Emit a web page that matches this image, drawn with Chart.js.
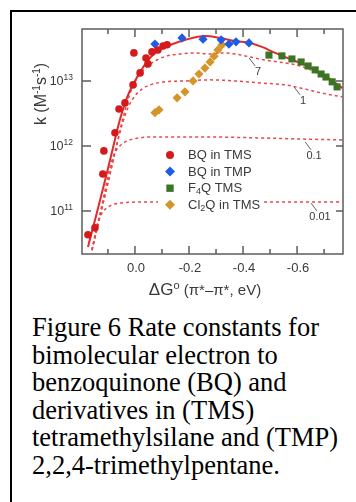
<!DOCTYPE html>
<html>
<head>
<meta charset="utf-8">
<script src="https://cdn.jsdelivr.net/npm/chart.js@4/dist/chart.umd.min.js"></script>
<style>
  html, body { margin: 0; padding: 0; background: #fff; }
  body { width: 356px; height: 502px; overflow: hidden; position: relative; }
  #frame { position: absolute; left: 10px; top: 10px; width: 420px; height: 600px;
           border-left: 2px solid #000; border-top: 2px solid #000; }
  #chart { position: absolute; left: 0; top: 0; }
  #caption { position: absolute; left: 32px; top: 314px; color: #000;
             font-family: "Liberation Serif", "Times New Roman", serif;
             font-size: 26.5px; line-height: 27.6px; white-space: nowrap; }
</style>
</head>
<body>
<div id="frame"></div>
<canvas id="chart" width="356" height="300"></canvas>
<div id="caption">Figure 6 Rate constants for<br>bimolecular electron to<br>benzoquinone (BQ) and<br>derivatives in (TMS)<br>tetramethylsilane and (TMP)<br>2,2,4-trimethylpentane.</div>
<script>
// ΔG° (eV) and k (M-1 s-1)

// BQ in TMS (red circles)
var bqTmsDG = [0.174, 0.148, 0.119, 0.115, 0.074, 0.059, 0.037, 0.007, 0.004, -0.019, -0.041, -0.048, -0.063, -0.085, -0.104, -0.119];
var bqTmsK  = [4.3e10, 5.5e10, 3.7e11, 8.4e11, 1.6e12, 3.7e12, 4.6e12, 8.7e12, 2.7e13, 1.33e13, 2.26e13, 1.83e13, 2.8e13, 3.0e13, 3.45e13, 3.6e13];

// BQ in TMP (blue diamonds)
var bqTmpDG = [-0.074, -0.174, -0.252, -0.319, -0.348, -0.374, -0.422];
var bqTmpK  = [3.7e13, 4.6e13, 4.4e13, 4.3e13, 3.7e13, 4.0e13, 3.85e13];

// F4Q TMS (green squares)
var f4qDG = [-0.496, -0.544, -0.581, -0.615, -0.641, -0.667, -0.689, -0.707, -0.730, -0.748];
var f4qK  = [2.5e13, 2.43e13, 2.18e13, 1.96e13, 1.7e13, 1.48e13, 1.28e13, 1.15e13, 9.7e12, 8.1e12];

// Cl2Q in TMS (orange diamonds)
var cl2qDG = [-0.074, -0.089, -0.156, -0.185, -0.215, -0.237, -0.259, -0.278, -0.293, -0.307, -0.322];
var cl2qK  = [3.25e12, 3.6e12, 5.5e12, 6.8e12, 1.0e13, 1.28e13, 1.58e13, 1.96e13, 2.4e13, 3.0e13, 3.6e13];

// fitted curve (solid)
var fitDG = [0.174, 0.144, 0.115, 0.085, 0.056, 0.030, 0.004, -0.022, -0.052, -0.085, -0.130, -0.185, -0.259, -0.315, -0.370, -0.426, -0.470, -0.519, -0.574, -0.630, -0.685, -0.733, -0.767];
var fitK  = [2.8e10, 8.4e10, 2.5e11, 8.1e11, 2.5e12, 5.5e12, 9.3e12, 1.43e13, 2.18e13, 2.9e13, 3.58e13, 4.28e13, 4.92e13, 4.59e13, 4.12e13, 3.85e13, 3.34e13, 2.7e13, 2.18e13, 1.76e13, 1.33e13, 1.0e13, 7.8e12];

// model curves (dotted), labelled 7, 1, 0.1, 0.01
var c7DG = [0.159, 0.137, 0.115, 0.093, 0.070, 0.048, 0.026, 0.004, -0.019, -0.048, -0.081, -0.119, -0.167, -0.222, -0.278, -0.322, -0.370, -0.426, -0.481, -0.556, -0.611, -0.667, -0.722, -0.767];
var c7K  = [2.5e10, 6.1e10, 1.48e11, 3.6e11, 9.3e11, 2.34e12, 5.1e12, 9.0e12, 1.28e13, 1.7e13, 2.1e13, 2.43e13, 2.6e13, 2.7e13, 2.6e13, 2.7e13, 2.6e13, 2.34e13, 2.1e13, 1.89e13, 1.7e13, 1.37e13, 1.0e13, 7.8e12];

var c1DG = [0.159, 0.137, 0.115, 0.093, 0.070, 0.048, 0.026, 0.0, -0.026, -0.056, -0.111, -0.185, -0.278, -0.370, -0.463, -0.556, -0.630, -0.693, -0.767];
var c1K  = [2.5e10, 6.1e10, 1.48e11, 3.6e11, 9.3e11, 2.1e12, 3.85e12, 5.9e12, 7.5e12, 8.7e12, 9.7e12, 1.0e13, 1.04e13, 1.0e13, 9.3e12, 8.7e12, 7.5e12, 6.5e12, 5.7e12];

var c01DG = [0.159, 0.141, 0.122, 0.107, 0.093, 0.078, 0.056, 0.030, 0.0, -0.056, -0.241, -0.463, -0.611, -0.767];
var c01K  = [2.5e10, 5.5e10, 1.24e11, 2.5e11, 4.6e11, 7.3e11, 1.0e12, 1.19e12, 1.3e12, 1.38e12, 1.38e12, 1.33e12, 1.28e12, 1.24e12];

var c001DG = [0.159, 0.148, 0.137, 0.122, 0.100, 0.074, 0.037, -0.019, -0.241, -0.463, -0.767];
var c001K  = [2.5e10, 4.3e10, 6.8e10, 9.3e10, 1.15e11, 1.28e11, 1.35e11, 1.37e11, 1.37e11, 1.37e11, 1.37e11];

// curve labels: text, anchor on the curve (ΔG, k)
var curveLabels = ['7', '1', '0.1', '0.01'];
var curveLabelDG = [-0.419, -0.585, -0.626, -0.648];
var curveLabelK  = [2.34e13, 8.4e12, 1.2e12, 1.37e11];

// axis ticks
var xTickVals = [0.1, 0.0, -0.1, -0.2, -0.3, -0.4, -0.5, -0.6, -0.7];
var xTickLabels = ['', '0.0', '', '-0.2', '', '-0.4', '', '-0.6', ''];
var yTickVals = [1e11, 1e12, 1e13];
var yTickExps = ['11', '12', '13'];

var RED = '#d41a1a', BLUE = '#1f5ce6', GREEN = '#3b7424', ORANGE = '#d4952a';
var LINE_RED = '#e22a2a', DOT_RED = '#e8474a', INK = '#3a3a3a', AXIS = '#5c5c5c';

function pts(xs, ys) {
  return xs.map(function(x, i) { return { x: x, y: ys[i] }; });
}

function marker(ctx, style, x, y, r, color) {
  ctx.fillStyle = color;
  ctx.beginPath();
  if (style === 'circle') {
    ctx.arc(x, y, r, 0, Math.PI * 2);
  } else if (style === 'rect') {
    var s = r * Math.SQRT1_2;
    ctx.rect(x - s, y - s, 2 * s, 2 * s);
  } else {
    ctx.moveTo(x, y - r); ctx.lineTo(x + r, y); ctx.lineTo(x, y + r); ctx.lineTo(x - r, y);
    ctx.closePath();
  }
  ctx.fill();
}

// draw text pieces with sub/superscripts: [text, size, dy]
function rich(ctx, parts, x, y) {
  parts.forEach(function(p) {
    ctx.font = p[1] + 'px "Liberation Sans", Arial, sans-serif';
    ctx.fillText(p[0], x, y + (p[2] || 0));
    x += ctx.measureText(p[0]).width;
  });
  return x;
}
function richWidth(ctx, parts) {
  var w = 0;
  parts.forEach(function(p) {
    ctx.font = p[1] + 'px "Liberation Sans", Arial, sans-serif';
    w += ctx.measureText(p[0]).width;
  });
  return w;
}

var legendItems = [
  { style: 'circle', r: 4, color: RED, parts: [['BQ in TMS', 13]] },
  { style: 'diamond', r: 5, color: BLUE, parts: [['BQ in TMP', 13]] },
  { style: 'rect', r: 5.2, color: GREEN, parts: [['F', 13], ['4', 9, 3], ['Q TMS', 13]] },
  { style: 'diamond', r: 5, color: ORANGE, parts: [['Cl', 13], ['2', 9, 3], ['Q in TMS', 13]] }
];

var decor = {
  id: 'decor',
  afterDatasetsDraw: function(chart) {
    var ctx = chart.ctx, a = chart.chartArea, xs = chart.scales.x, ys = chart.scales.y;
    ctx.save();

    // legend box (covers the 0.01 curve)
    ctx.fillStyle = '#fff';
    ctx.fillRect(158, 146, 106, 67);
    ctx.textBaseline = 'middle';
    legendItems.forEach(function(it, i) {
      var y = 155 + i * 16.6;
      marker(ctx, it.style, 170, y, it.r, it.color);
      ctx.fillStyle = INK;
      rich(ctx, it.parts, 188, y + 0.5);
    });

    // curve labels with leader lines
    ctx.strokeStyle = '#666';
    ctx.lineWidth = 1;
    ctx.fillStyle = INK;
    ctx.font = '11px "Liberation Sans", Arial, sans-serif';
    ctx.textAlign = 'center';
    curveLabels.forEach(function(t, i) {
      var px = xs.getPixelForValue(curveLabelDG[i]);
      var py = ys.getPixelForValue(curveLabelK[i]);
      ctx.beginPath();
      ctx.moveTo(px + 1, py + 1);
      ctx.lineTo(px + 7, py + 9);
      ctx.stroke();
      ctx.fillText(t, px + 10, py + 15);
    });

    // frame
    ctx.strokeStyle = AXIS;
    ctx.lineWidth = 1.5;
    ctx.strokeRect(a.left, a.top, a.right - a.left, a.bottom - a.top);

    // x ticks (inward, top and bottom) and labels
    ctx.textAlign = 'center';
    ctx.textBaseline = 'alphabetic';
    xTickVals.forEach(function(v, i) {
      var px = xs.getPixelForValue(v);
      var len = xTickLabels[i] ? 8 : 5;
      ctx.beginPath();
      ctx.moveTo(px, a.bottom); ctx.lineTo(px, a.bottom - len);
      ctx.moveTo(px, a.top); ctx.lineTo(px, a.top + len);
      ctx.stroke();
      if (xTickLabels[i]) {
        ctx.fillStyle = INK;
        ctx.font = '13px "Liberation Sans", Arial, sans-serif';
        ctx.fillText(xTickLabels[i], px + 1, a.bottom + 18);
      }
    });

    // y ticks and labels 10^n
    ctx.textAlign = 'left';
    yTickVals.forEach(function(v, i) {
      var py = ys.getPixelForValue(v);
      ctx.beginPath();
      ctx.moveTo(a.left, py); ctx.lineTo(a.left + 9, py);
      ctx.moveTo(a.right, py); ctx.lineTo(a.right - 7, py);
      ctx.stroke();
      var parts = [['10', 12.5], [yTickExps[i], 8.5, -5]];
      ctx.fillStyle = INK;
      rich(ctx, parts, a.left - 9 - richWidth(ctx, parts), py + 4.5);
    });

    // x title
    var xt = [['\u0394G', 17], ['o', 11, -6], [' (\u03c0*\u2013\u03c0*, eV)', 15]];
    rich(ctx, xt, 205 - richWidth(ctx, xt) / 2, 295);

    // y title
    ctx.translate(46, 94);
    ctx.rotate(-Math.PI / 2);
    var yt = [['k (M', 16], ['-1', 10, -6], ['s', 16], ['-1', 10, -6], [')', 16]];
    rich(ctx, yt, -richWidth(ctx, yt) / 2, 0);

    ctx.restore();
  }
};

function dotted(data) {
  return { data: data, showLine: true, pointRadius: 0, borderColor: DOT_RED, borderWidth: 1.5,
           borderDash: [3, 3], cubicInterpolationMode: 'monotone', fill: false };
}

new Chart(document.getElementById('chart'), {
  type: 'scatter',
  data: {
    datasets: [
      { data: pts(bqTmsDG, bqTmsK), pointStyle: 'circle', pointRadius: 3.8, backgroundColor: RED, borderColor: RED, borderWidth: 0 },
      { data: pts(bqTmpDG, bqTmpK), pointStyle: 'rectRot', pointRadius: 4.6, backgroundColor: BLUE, borderColor: BLUE, borderWidth: 0 },
      { data: pts(f4qDG, f4qK), pointStyle: 'rect', pointRadius: 5, backgroundColor: GREEN, borderColor: GREEN, borderWidth: 0 },
      { data: pts(cl2qDG, cl2qK), pointStyle: 'rectRot', pointRadius: 4.6, backgroundColor: ORANGE, borderColor: ORANGE, borderWidth: 0 },
      { data: pts(fitDG, fitK), showLine: true, pointRadius: 0, borderColor: LINE_RED, borderWidth: 2,
        cubicInterpolationMode: 'monotone', fill: false },
      dotted(pts(c7DG, c7K)),
      dotted(pts(c1DG, c1K)),
      dotted(pts(c01DG, c01K)),
      dotted(pts(c001DG, c001K))
    ]
  },
  options: {
    responsive: false,
    animation: false,
    devicePixelRatio: 1,
    layout: { padding: { left: 82, right: 13, top: 29, bottom: 46 } },
    plugins: { legend: { display: false }, tooltip: { enabled: false } },
    scales: {
      x: { type: 'linear', reverse: true, min: -0.77, max: 0.196, display: false },
      y: { type: 'logarithmic', min: 2.18e10, max: 6.3e13, display: false }
    }
  },
  plugins: [decor]
});
</script>
</body>
</html>
